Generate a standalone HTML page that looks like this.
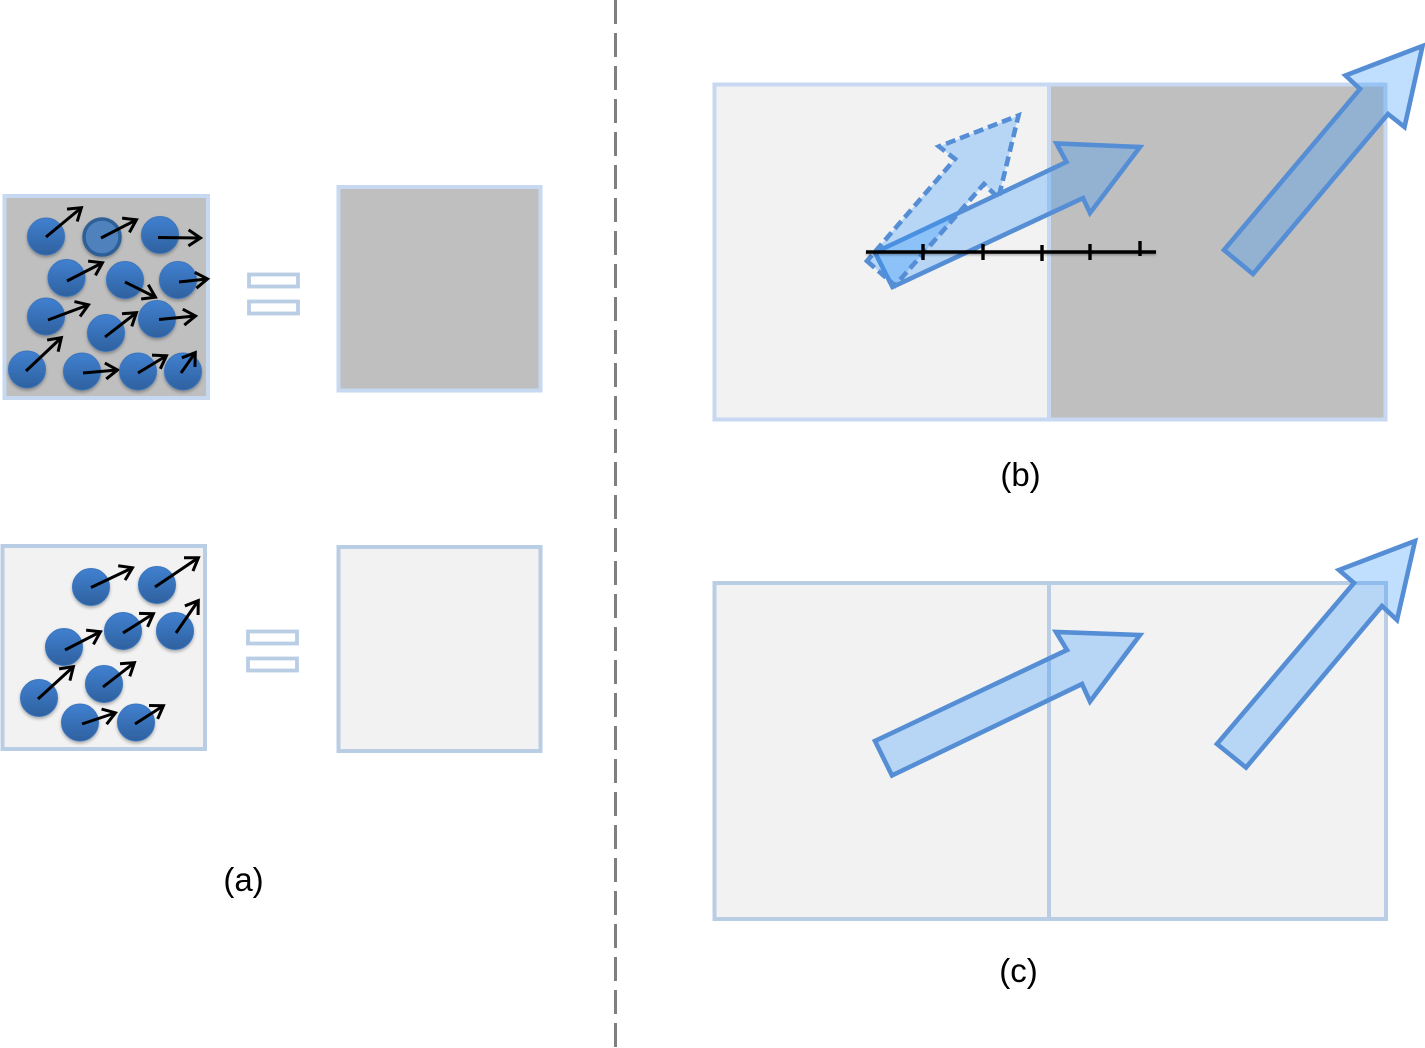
<!DOCTYPE html>
<html lang="en">
<head>
<meta charset="utf-8">
<title>Particle and vector diagram</title>
<style>
  html, body { margin: 0; padding: 0; background: #ffffff; }
  svg { display: block; }
  text { font-family: "Liberation Sans", sans-serif; font-size: 33px; fill: #000000; text-anchor: middle; }
  .ball { fill: url(#ball-gradient); stroke: #3a75bd; stroke-width: 1; filter: url(#ball-shadow); }
  .ring { fill: #4f81bd; stroke: #2f5f96; stroke-width: 3.5; filter: url(#ball-shadow); }
  .vec { stroke: #000000; stroke-width: 3; fill: none; marker-end: url(#open-head); }
  .big { fill: rgba(48,148,255,0.3); stroke: #558ed5; stroke-width: 4.6; stroke-linejoin: miter; stroke-miterlimit: 10; }
  .tick { stroke: #000000; stroke-width: 3.4; }
</style>
</head>
<body>
<svg width="1425" height="1048" viewBox="0 0 1425 1048" xmlns="http://www.w3.org/2000/svg">
  <defs>
    <linearGradient id="ball-gradient" x1="0" y1="0" x2="0" y2="1">
      <stop offset="0" stop-color="#4180d0"/>
      <stop offset="1" stop-color="#2e619f"/>
    </linearGradient>
    <filter id="ball-shadow" x="-30%" y="-30%" width="160%" height="170%">
      <feDropShadow dx="0" dy="2" stdDeviation="1.6" flood-color="#000000" flood-opacity="0.3"/>
    </filter>
    <filter id="line-shadow" filterUnits="userSpaceOnUse" x="850" y="235" width="320" height="35">
      <feDropShadow dx="0" dy="1.5" stdDeviation="1" flood-color="#000000" flood-opacity="0.3"/>
    </filter>
    <marker id="open-head" viewBox="0 0 20 20" refX="16" refY="10" markerWidth="20" markerHeight="20" markerUnits="userSpaceOnUse" orient="auto">
      <path d="M4.500 2 L16.500 10 L4.500 18" fill="none" stroke="#000000" stroke-width="3"/>
    </marker>
  </defs>

  <rect x="0" y="0" width="1425" height="1048" fill="#ffffff"/>

  <line x1="615.5" y1="0" x2="615.5" y2="1048" stroke="#7f7f7f" stroke-width="3" stroke-dasharray="24 9"/>

  <g>
    <rect x="4.500" y="196" width="203.500" height="202" fill="#bfbfbf" stroke="#c6d9f1" stroke-width="4"/>
    <g>
      <g><circle class="ball" cx="46" cy="236.5" r="18.5"/><line class="vec" x1="46" y1="237" x2="81" y2="208"/></g>
      <g><circle class="ring" cx="102" cy="237" r="18"/><line class="vec" x1="101" y1="238" x2="136" y2="220"/></g>
      <g><circle class="ball" cx="160" cy="235" r="18.5"/><line class="vec" x1="158" y1="237.500" x2="200" y2="238"/></g>
      <g><circle class="ball" cx="66.500" cy="278" r="18.5"/><line class="vec" x1="67" y1="281" x2="102" y2="263"/></g>
      <g><circle class="ball" cx="125" cy="280" r="18.5"/><line class="vec" x1="125" y1="282" x2="155" y2="297"/></g>
      <g><circle class="ball" cx="178" cy="280" r="18.5"/><line class="vec" x1="179" y1="282" x2="207" y2="279"/></g>
      <g><circle class="ball" cx="46" cy="316.500" r="18.5"/><line class="vec" x1="48" y1="320" x2="88" y2="305"/></g>
      <g><circle class="ball" cx="106" cy="333" r="18.5"/><line class="vec" x1="105" y1="337" x2="136" y2="313"/></g>
      <g><circle class="ball" cx="157" cy="319" r="18.5"/><line class="vec" x1="159" y1="319.500" x2="195" y2="316"/></g>
      <g><circle class="ball" cx="27" cy="369.500" r="18.5"/><line class="vec" x1="26" y1="371" x2="61" y2="338"/></g>
      <g><circle class="ball" cx="82" cy="371.500" r="18.5"/><line class="vec" x1="83" y1="373" x2="117" y2="370"/></g>
      <g><circle class="ball" cx="138" cy="371.500" r="18.5"/><line class="vec" x1="138" y1="373" x2="166" y2="356"/></g>
      <g><circle class="ball" cx="183" cy="371.500" r="18.5"/><line class="vec" x1="181" y1="373" x2="195" y2="353"/></g>
    </g>

    <g fill="#ffffff" stroke="#b9cde5" stroke-width="3.800">
      <rect x="249" y="274.500" width="49" height="12"/>
      <rect x="249" y="301.500" width="49" height="12"/>
    </g>
    <rect x="338.500" y="187" width="202" height="203.500" fill="#bfbfbf" stroke="#c6d9f1" stroke-width="4"/>

    <rect x="2.500" y="546" width="202.500" height="203" fill="#f2f2f2" stroke="#b9cde5" stroke-width="4"/>
    <g>
      <g><circle class="ball" cx="91" cy="587" r="18.5"/><line class="vec" x1="91" y1="587.500" x2="132" y2="568"/></g>
      <g><circle class="ball" cx="157" cy="585" r="18.5"/><line class="vec" x1="155" y1="587" x2="198" y2="558"/></g>
      <g><circle class="ball" cx="123" cy="631" r="18.5"/><line class="vec" x1="123" y1="633" x2="153" y2="614"/></g>
      <g><circle class="ball" cx="175" cy="631" r="18.5"/><line class="vec" x1="176" y1="633" x2="198" y2="601"/></g>
      <g><circle class="ball" cx="64" cy="647" r="18.5"/><line class="vec" x1="65" y1="650" x2="100" y2="632"/></g>
      <g><circle class="ball" cx="104" cy="684" r="18.5"/><line class="vec" x1="103" y1="687" x2="134" y2="663"/></g>
      <g><circle class="ball" cx="39" cy="698" r="18.5"/><line class="vec" x1="38" y1="699" x2="73" y2="667"/></g>
      <g><circle class="ball" cx="80" cy="722.500" r="18.5"/><line class="vec" x1="82" y1="724" x2="115" y2="713"/></g>
      <g><circle class="ball" cx="136" cy="722.500" r="18.5"/><line class="vec" x1="135" y1="724" x2="163" y2="706"/></g>
    </g>

    <g fill="#ffffff" stroke="#b9cde5" stroke-width="3.800">
      <rect x="248" y="631.500" width="49" height="12"/>
      <rect x="248" y="658.500" width="49" height="12"/>
    </g>
    <rect x="338.500" y="547" width="202" height="204" fill="#f2f2f2" stroke="#b9cde5" stroke-width="4"/>

    <text x="243.500" y="891">(a)</text>
  </g>

  <g>
    <rect x="714.500" y="84.500" width="334.500" height="335" fill="#f2f2f2" stroke="#c6d9f1" stroke-width="4"/>
    <rect x="1049" y="84.500" width="336.500" height="335" fill="#bfbfbf" stroke="#c6d9f1" stroke-width="4"/>
    <polygon class="big" points="875,252.500 892.500,287 1083,198 1090,213 1140,147 1056.500,143.500 1066.500,162"/>
    <polygon class="big" stroke-dasharray="10 5" points="867,261 895,285.500 984,184 998.500,198 1018.500,115.500 939,146.500 955,159"/>
    <polygon class="big" points="1224,250 1253,274 1388,114 1404.500,127 1422.500,46 1345.500,75.500 1360,89"/>
    <g>
      <line x1="866" y1="252" x2="1156" y2="252" stroke="#000000" stroke-width="3.400" filter="url(#line-shadow)"/>
      <line class="tick" x1="923" y1="244" x2="923" y2="260"/>
      <line class="tick" x1="983" y1="244" x2="983" y2="260"/>
      <line class="tick" x1="1042" y1="245" x2="1042" y2="261"/>
      <line class="tick" x1="1090" y1="244" x2="1090" y2="260"/>
      <line class="tick" x1="1140" y1="241" x2="1140" y2="256"/>
    </g>
    <text x="1020.500" y="486">(b)</text>
  </g>

  <g>
    <rect x="714.500" y="583" width="334.500" height="336" fill="#f2f2f2" stroke="#b9cde5" stroke-width="4"/>
    <rect x="1049" y="583" width="337" height="336" fill="#f2f2f2" stroke="#b9cde5" stroke-width="4"/>
    <polygon class="big" points="875,741 892,775.500 1082,684 1090,701.500 1140,635 1056,632 1067,650"/>
    <polygon class="big" points="1217,744 1246,767.500 1382,606 1397,620 1415,541 1339,570 1354,583"/>
    <text x="1018.500" y="982">(c)</text>
  </g>
</svg>
</body>
</html>
